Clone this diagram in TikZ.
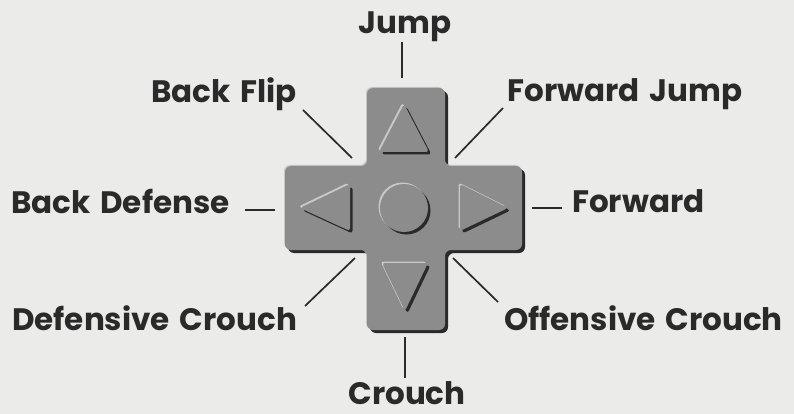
\documentclass[tikz,border=0pt]{standalone}
\usepackage{fontspec}
\setmainfont{Poppins}[WordSpace=1.5]
\definecolor{paper}{HTML}{EBEBE9}
\definecolor{ink}{HTML}{2A2A2A}
\definecolor{padface}{HTML}{8C8C8C}
\definecolor{padshade}{HTML}{2A2A2A}
\definecolor{padlight}{HTML}{C8C8C8}
\def\crosspath{(367,88) -- (445,88) -- (445,166) -- (522,166) -- (522,250) -- (445,250)
  -- (445,330) -- (367,330) -- (367,250) -- (285,250) -- (285,166) -- (367,166) -- cycle}
\def\upbtn{(404,104) -- (429,152) -- (379,152) -- cycle}
\def\downbtn{(382,263) -- (428,263) -- (405,311) -- cycle}
\def\leftbtn{(300,208) -- (350,184) -- (350,231) -- cycle}
\def\rightbtn{(460,184) -- (508,208) -- (460,231) -- cycle}
\def\midbtn{(404,208) circle (24pt)}
\begin{document}
\begin{tikzpicture}[x=1pt,y=-1pt,
  lbl/.style={font=\fontsize{31}{32}\selectfont\bfseries,text=ink,inner sep=0pt},
  lead/.style={draw=ink,line width=1.7pt}]
\useasboundingbox[fill=paper] (0,0) rectangle (794,414);
% the pad
\fill[padshade,rounded corners=6pt,xshift=3pt,yshift=-3pt] \crosspath;
\fill[padlight,rounded corners=6pt,xshift=-1pt,yshift=1pt] \crosspath;
\fill[padface,rounded corners=6pt] \crosspath;
\foreach \btn in {\upbtn,\downbtn,\leftbtn,\rightbtn,\midbtn}{
  \fill[padshade,rounded corners=3pt,xshift=2.5pt,yshift=-2.5pt] \btn;
  \fill[padlight,rounded corners=3pt,xshift=-1.5pt,yshift=1.5pt] \btn;
  \fill[padface,rounded corners=3pt] \btn;
}
% labels
\node[lbl,anchor=base] (jump) at (405,34) {Jump};
\node[lbl,anchor=base] (backflip) at (224,103) {Back Flip};
\node[lbl,anchor=base] (fwdjump) at (625,102) {Forward Jump};
\node[lbl,anchor=base west] (backdef) at (11,213) {Back Defense};
\node[lbl,anchor=base west] (forward) at (572,212) {Forward};
\node[lbl,anchor=base west] (defcrouch) at (12,330) {Defensive Crouch};
\node[lbl,anchor=base west] (offcrouch) at (504,330) {Offensive Crouch};
\node[lbl,anchor=base] (crouch) at (407,404) {Crouch};
% leaders
\coordinate (jumpA) at (402,42);     \coordinate (jumpB) at (402,78);
\coordinate (flipA) at (303,110);    \coordinate (flipB) at (352,158);
\coordinate (fjumpA) at (503,108);   \coordinate (fjumpB) at (455,158);
\coordinate (bdefA) at (245,210);    \coordinate (bdefB) at (275,210);
\coordinate (fwdA) at (532,208);     \coordinate (fwdB) at (562,208);
\coordinate (dcrA) at (305,306);     \coordinate (dcrB) at (355,258);
\coordinate (ocrA) at (453,258);     \coordinate (ocrB) at (498,302);
\coordinate (crA) at (405,337);      \coordinate (crB) at (405,378);
\draw[lead] (jumpA) -- (jumpB);
\draw[lead] (flipA) -- (flipB);
\draw[lead] (fjumpA) -- (fjumpB);
\draw[lead] (bdefA) -- (bdefB);
\draw[lead] (fwdA) -- (fwdB);
\draw[lead] (dcrA) -- (dcrB);
\draw[lead] (ocrA) -- (ocrB);
\draw[lead] (crA) -- (crB);
\end{tikzpicture}
\end{document}
